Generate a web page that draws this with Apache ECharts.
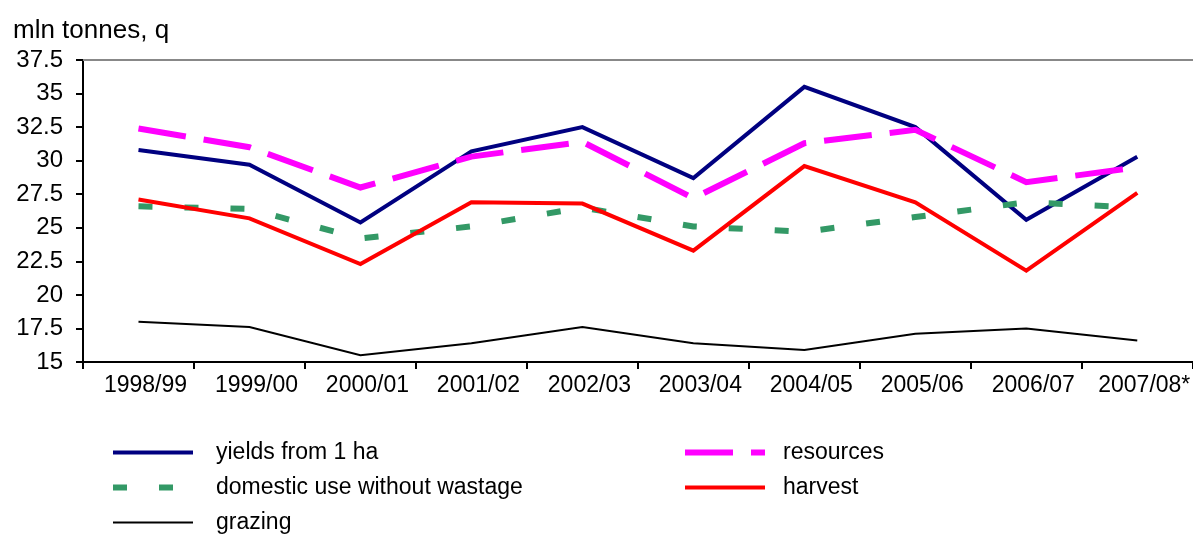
<!DOCTYPE html>
<html>
<head>
<meta charset="utf-8">
<script src="https://cdn.jsdelivr.net/npm/echarts@6/dist/echarts.min.js"></script>
<style>html,body{margin:0;padding:0;background:#fff;}#c{width:1193px;height:534px;}</style>
</head>
<body>
<div id="c"></div>
<script>
var categories = ['1998/99','1999/00','2000/01','2001/02','2002/03','2003/04','2004/05','2005/06','2006/07','2007/08*'];
var yields    = [30.8, 29.7, 25.4, 30.7, 32.5, 28.7, 35.5, 32.5, 25.6, 30.3];
var resources = [32.4, 31.0, 28.0, 30.3, 31.4, 27.2, 31.3, 32.3, 28.4, 29.5];
var domestic  = [26.6, 26.4, 24.2, 25.1, 26.5, 25.1, 24.7, 25.8, 26.9, 26.5];
var harvest   = [27.1, 25.7, 22.3, 26.9, 26.8, 23.3, 29.6, 26.9, 21.8, 27.6];
var grazing   = [18.0, 17.6, 15.5, 16.4, 17.6, 16.4, 15.9, 17.1, 17.5, 16.6];
var yMin = 15, yMax = 37.5, yStep = 2.5;

var FONT = '"Liberation Sans", Arial, sans-serif';
var chart = echarts.init(document.getElementById('c'), null, {renderer: 'canvas'});

function line(name, data, color, width, type, z) {
  return {
    name: name, type: 'line', data: data, symbol: 'none', showSymbol: false,
    z: z, animation: false,
    lineStyle: {color: color, width: width, type: type, cap: 'butt', join: 'miter'},
    itemStyle: {color: color}
  };
}

function legendBox(left, pad, names) {
  return {
    data: names, left: left,
    orient: 'vertical', top: 436, height: 120,
    itemWidth: 80, itemHeight: 20, itemGap: 12,
    itemStyle: {opacity: 0, borderWidth: 0},
    lineStyle: {width: 'inherit', type: 'inherit', cap: 'butt', opacity: 1},
    textStyle: {fontFamily: FONT, fontSize: 23, color: '#000', padding: [0, 0, 0, pad], lineHeight: 20},
    selectedMode: false
  };
}

chart.setOption({
  animation: false,
  title: {
    text: 'mln tonnes, q', left: 8, top: 13,
    textStyle: {fontFamily: FONT, fontSize: 26, fontWeight: 'normal', color: '#000'}
  },
  grid: {left: 83, top: 60, bottom: 172, width: 1116},
  xAxis: [{
    type: 'category', data: categories, boundaryGap: true,
    axisLine: {lineStyle: {color: '#000', width: 2}},
    axisTick: {show: true, inside: false, length: 7, lineStyle: {color: '#000', width: 2}},
    axisLabel: {fontFamily: FONT, fontSize: 23, color: '#000', margin: 12, interval: 0, padding: [0, 0, 0, 14]}
  }, {
    type: 'category', data: categories, position: 'top', boundaryGap: true,
    axisLine: {show: true, lineStyle: {color: '#888', width: 2}},
    axisTick: {show: false}, axisLabel: {show: false}
  }],
  yAxis: {
    type: 'value', min: yMin, max: yMax, interval: yStep,
    axisLine: {show: true, lineStyle: {color: '#000', width: 2}},
    axisTick: {show: true, inside: false, length: 7, lineStyle: {color: '#000', width: 2}},
    splitLine: {show: false},
    axisLabel: {fontFamily: FONT, fontSize: 24, color: '#000', margin: 20}
  },
  legend: [
    legendBox(105, 18, ['yields from 1 ha', 'domestic use without wastage', 'grazing']),
    legendBox(677, 13, ['resources', 'harvest'])
  ],
  series: [
    line('yields from 1 ha', yields, '#000080', 4, 'solid', 2),
    line('resources', resources, '#FF00FF', 6, [48, 18], 3),
    line('domestic use without wastage', domestic, '#339966', 6, [14, 32], 4),
    line('harvest', harvest, '#FF0000', 4, 'solid', 5),
    line('grazing', grazing, '#000000', 2, 'solid', 6)
  ]
});
</script>
</body>
</html>
